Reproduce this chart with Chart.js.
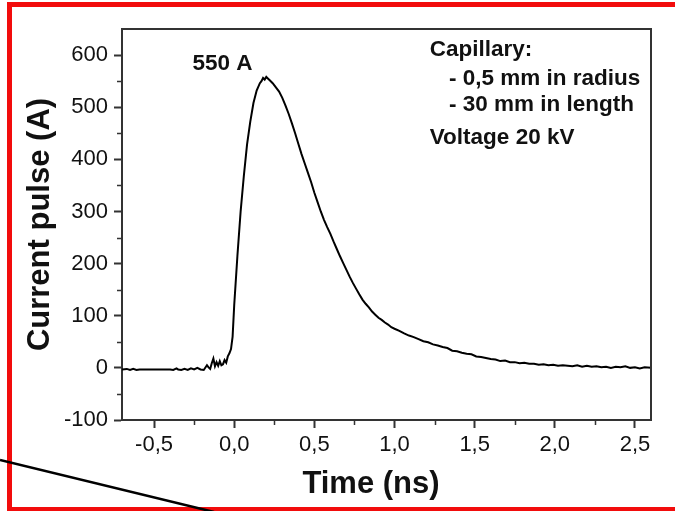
<!DOCTYPE html>
<html>
<head>
<meta charset="utf-8">
<script src="https://cdn.jsdelivr.net/npm/chart.js@4.4.1/dist/chart.umd.min.js"></script>
<style>
  html, body { margin: 0; padding: 0; background: #fff; }
  #wrap { width: 675px; height: 511px; position: relative; }
</style>
</head>
<body>
<div id="wrap"><canvas id="myChart"></canvas></div>
<script>
// current pulse chart

const timeNs = [
  -0.70, -0.67, -0.65, -0.63, -0.61, -0.59, -0.55, -0.50, -0.45, -0.40,
  -0.38, -0.36, -0.35, -0.33, -0.31, -0.29, -0.27, -0.25, -0.23, -0.21,
  -0.19, -0.17, -0.16, -0.15, -0.14, -0.13, -0.12, -0.11, -0.10, -0.09,
  -0.08, -0.07, -0.06, -0.05, -0.04, -0.03, -0.02, -0.01, 0.00, 0.02,
  0.04, 0.06, 0.08, 0.10, 0.12, 0.14, 0.16, 0.17, 0.18, 0.19,
  0.20, 0.21, 0.22, 0.24, 0.26, 0.28, 0.30, 0.32, 0.34, 0.36,
  0.38, 0.40, 0.42, 0.44, 0.46, 0.48, 0.50, 0.52, 0.54, 0.56,
  0.58, 0.60, 0.62, 0.64, 0.66, 0.68, 0.70, 0.72, 0.74, 0.76,
  0.78, 0.80, 0.82, 0.84, 0.86, 0.88, 0.90, 0.92, 0.94, 0.96,
  0.98, 1.00, 1.03, 1.06, 1.09, 1.12, 1.15, 1.18, 1.21, 1.24,
  1.27, 1.30, 1.33, 1.36, 1.39, 1.42, 1.45, 1.48, 1.51, 1.54,
  1.57, 1.60, 1.63, 1.66, 1.69, 1.72, 1.75, 1.78, 1.81, 1.84,
  1.87, 1.90, 1.93, 1.96, 1.99, 2.02, 2.05, 2.08, 2.11, 2.14,
  2.17, 2.20, 2.23, 2.26, 2.29, 2.32, 2.35, 2.38, 2.41, 2.44,
  2.47, 2.50, 2.53, 2.56, 2.60
];
const currentA = [
  -3, -2, -4, -2, -4, -3, -3, -3, -3, -3,
  -4, -1, -3, -4, -2, -4, -1, -3, 0, -3,
  -4, 5, 1, -2, 9, 18, 3, 11, 4, 13,
  5, 7, 15, 10, 22, 28, 36, 60, 120, 215,
  300, 368, 428, 472, 508, 532, 546, 550, 556, 553,
  558, 555, 552, 546, 538, 530, 518, 503, 487, 469,
  450, 430, 410, 392, 374, 356, 336, 318, 300, 284,
  270, 257, 242, 228, 214, 201, 188, 175, 163, 152,
  141, 131, 123, 116, 108, 102, 96, 92, 87, 83,
  78, 75, 71, 66, 62, 59, 55, 51, 49, 45,
  43, 40, 38, 33, 32, 29, 27, 26, 22, 21,
  19, 17, 16, 13, 14, 11, 11, 9, 10, 8,
  8, 6, 7, 5, 6, 4, 5, 4, 3, 5,
  2, 4, 2, 3, 1, 2, 0, 2, 1, 3,
  0, 1, -1, 1, 0
];

// axis ticks
const xTicks = [-0.5, 0, 0.5, 1.0, 1.5, 2.0, 2.5];
const xMinorTicks = [-0.25, 0.25, 0.75, 1.25, 1.75, 2.25];
const yTicks = [-100, 0, 100, 200, 300, 400, 500, 600];
const yMinorTicks = [-50, 50, 150, 250, 350, 450, 550];

// text notes on the plot
const peakLabel = "550 A";
const noteLines = ["Capillary:", "  - 0,5 mm in radius", "  - 30 mm in length", "Voltage 20 kV"];

const FONT = "'Liberation Sans', Arial, sans-serif";

const points = [];
timeNs.forEach((t, i) => points.push({ x: t, y: currentA[i] }));

const extras = {
  id: "extras",
  beforeDraw(chart) {
    const c = chart.ctx;
    c.save();
    c.fillStyle = "#fff";
    c.fillRect(0, 0, chart.width, chart.height);
    c.restore();
  },
  afterDraw(chart) {
    const c = chart.ctx;
    const a = chart.chartArea;
    const xs = chart.scales.x;
    const ys = chart.scales.y;
    c.save();
    // top + right frame
    c.strokeStyle = "#333";
    c.lineWidth = 2;
    c.beginPath();
    c.moveTo(a.left, a.top);
    c.lineTo(a.right, a.top);
    c.lineTo(a.right, a.bottom);
    c.stroke();
    // minor ticks
    c.lineWidth = 1.5;
    c.beginPath();
    xMinorTicks.forEach((v) => {
      const px = Math.round(xs.getPixelForValue(v)) + 0.5;
      c.moveTo(px, a.bottom);
      c.lineTo(px, a.bottom + 5);
    });
    yMinorTicks.forEach((v) => {
      const py = Math.round(ys.getPixelForValue(v)) + 0.5;
      c.moveTo(a.left, py);
      c.lineTo(a.left - 5, py);
    });
    c.stroke();
    // notes
    c.fillStyle = "#111";
    c.textBaseline = "middle";
    c.font = "bold 22.5px " + FONT;
    c.fillText(peakLabel, xs.getPixelForValue(-0.26), ys.getPixelForValue(583));
    const noteY = [610, 555, 505, 441];
    noteLines.forEach((s, i) => {
      const indent = s.startsWith("  ") ? 1.34 : 1.22;
      c.fillText(s.trim(), xs.getPixelForValue(indent), ys.getPixelForValue(noteY[i]));
    });
    // red frame of the figure
    c.strokeStyle = "#f20c0c";
    c.lineWidth = 5;
    c.strokeRect(9.5, 4.5, 700, 505);
    // stray pointer line
    c.strokeStyle = "#000";
    c.lineWidth = 2.5;
    c.beginPath();
    c.moveTo(0, 460);
    c.lineTo(214, 512);
    c.stroke();
    c.restore();
  }
};

var ctx = document.getElementById("myChart").getContext("2d");
var myChart = new Chart(ctx, {
  type: "line",
  data: {
    datasets: [
      {
        data: points,
        borderColor: "#000",
        borderWidth: 2,
        pointRadius: 0,
        tension: 0,
        fill: false,
      },
    ],
  },
  options: {
    responsive: true,
    maintainAspectRatio: false,
    animation: false,
    devicePixelRatio: 1,
    layout: { padding: { left: 0, top: 29, right: 24, bottom: 0 } },
    plugins: { legend: { display: false }, tooltip: { enabled: false } },
    scales: {
      x: {
        type: "linear",
        min: -0.7,
        max: 2.6,
        afterBuildTicks: (s) => { s.ticks = xTicks.map((v) => ({ value: v })); },
        afterFit: (s) => { s.height = 91; },
        ticks: {
          color: "#111",
          font: { family: FONT, size: 22 },
          padding: 4,
          maxRotation: 0,
          callback: (v) => v.toFixed(1).replace(".", ","),
        },
        grid: { drawOnChartArea: false, drawTicks: true, tickLength: 8, tickWidth: 2, tickColor: "#333" },
        border: { display: true, color: "#333", width: 2 },
        title: {
          display: true,
          text: "Time (ns)\u2003",
          color: "#111",
          font: { family: FONT, size: 31, weight: "bold", lineHeight: 1 },
          padding: { top: 0, bottom: 11 },
        },
      },
      y: {
        min: -100,
        max: 650,
        afterBuildTicks: (s) => { s.ticks = yTicks.map((v) => ({ value: v })); },
        afterFit: (s) => { s.width = 122; },
        ticks: {
          color: "#111",
          font: { family: FONT, size: 22 },
          padding: 6,
        },
        grid: { drawOnChartArea: false, drawTicks: true, tickLength: 8, tickWidth: 2, tickColor: "#333" },
        border: { display: true, color: "#333", width: 2 },
        title: {
          display: true,
          text: "Current pulse (A)",
          color: "#111",
          font: { family: FONT, size: 31, weight: "bold", lineHeight: 1 },
          padding: { top: 25, bottom: 0 },
        },
      },
    },
  },
  plugins: [extras],
});
</script>
</body>
</html>
